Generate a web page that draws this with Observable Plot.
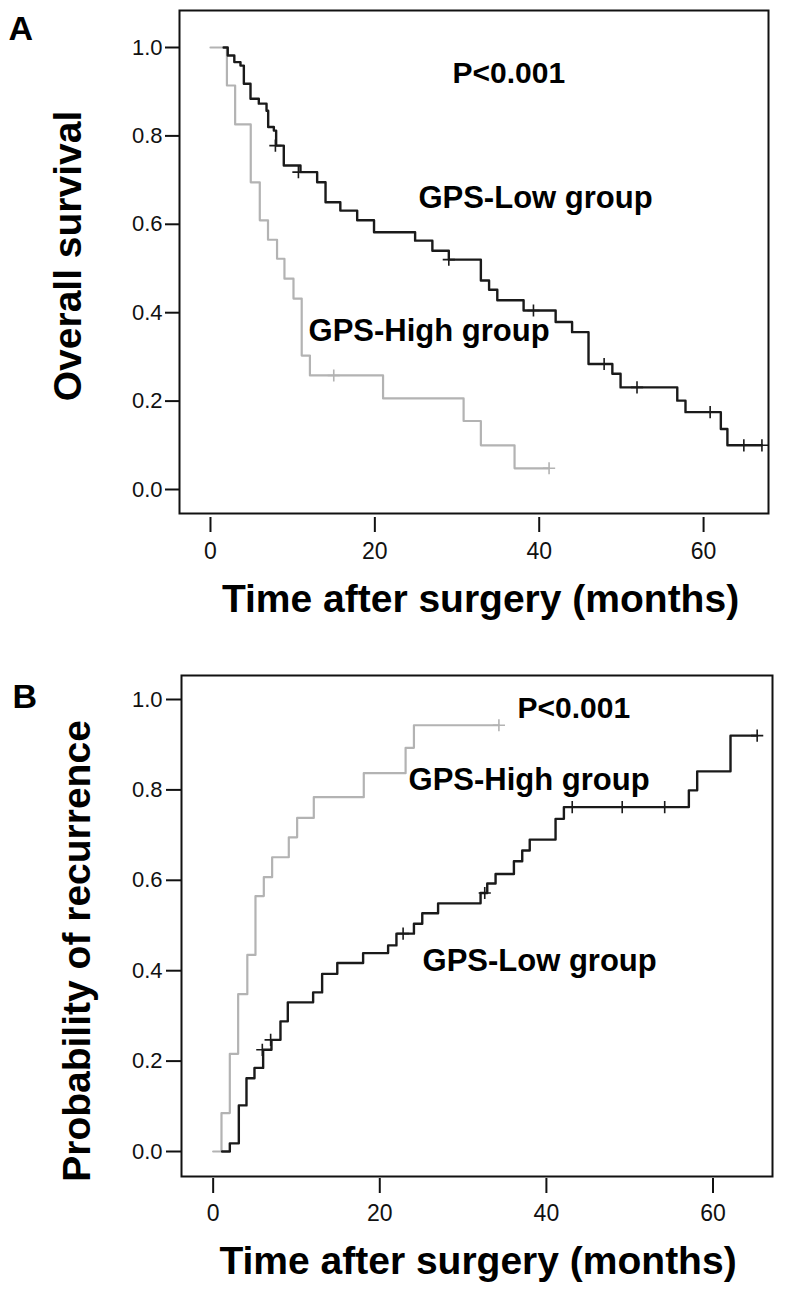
<!DOCTYPE html>
<html>
<head>
<meta charset="utf-8">
<script src="https://cdn.jsdelivr.net/npm/d3@7"></script>
<script src="https://cdn.jsdelivr.net/npm/@observablehq/plot@0.6"></script>
<style>
  body { margin: 0; background: #fff; }
  #chart { width: 787px; }
  #chart svg { display: block; }
</style>
</head>
<body>
<div id="chart"></div>
<script>
// ---------- DATA ----------
// Panel A: overall survival (Kaplan–Meier), time in months
const aLowTime  = [1.6, 2.1, 2.9, 3.65, 4.06, 4.87, 5.88, 6.82, 7.02, 7.71, 7.99, 8.92, 10.95, 12.98, 14.0, 15.8, 17.85, 19.9, 24.9, 27.0, 29.0, 32.9, 33.9, 34.9, 38.1, 42.0, 44.0, 46.0, 48.9, 49.9, 56.8, 57.8, 62.1, 62.9, 67.1];
const aLowSurv  = [1.0, 0.982, 0.967, 0.959, 0.918, 0.884, 0.873, 0.857, 0.820, 0.812, 0.778, 0.733, 0.718, 0.695, 0.650, 0.631, 0.609, 0.582, 0.563, 0.540, 0.520, 0.473, 0.452, 0.428, 0.405, 0.379, 0.356, 0.284, 0.262, 0.231, 0.201, 0.175, 0.137, 0.100, 0.100];
const aHighTime = [0, 2.0, 3.0, 4.9, 6.0, 7.0, 8.1, 9.0, 10.1, 11.1, 12.1, 21.0, 30.8, 32.9, 37.0, 41.2];
const aHighSurv = [1.0, 0.914, 0.826, 0.695, 0.609, 0.565, 0.522, 0.477, 0.432, 0.303, 0.258, 0.206, 0.155, 0.100, 0.048, 0.048];
const aLowCensorTime  = [7.9, 10.7, 29.0, 39.3, 47.9, 51.9, 60.8, 64.9, 67.1];
const aLowCensorSurv  = [0.778, 0.718, 0.520, 0.405, 0.284, 0.231, 0.175, 0.100, 0.100];
const aHighCensorTime = [15.0, 41.2];
const aHighCensorSurv = [0.258, 0.048];

// Panel B: probability of recurrence
const bLowTime  = [1.08, 2.0, 3.08, 4.0, 4.96, 6.0, 7.0, 8.08, 8.96, 12.0, 13.08, 14.9, 18.0, 21.0, 22.0, 24.1, 25.1, 27.0, 32.1, 32.9, 33.9, 36.1, 37.1, 38.0, 41.1, 42.1, 57.1, 58.1, 62.1, 65.3];
const bLowProb  = [0, 0.018, 0.102, 0.162, 0.185, 0.225, 0.247, 0.288, 0.330, 0.352, 0.393, 0.417, 0.439, 0.456, 0.482, 0.504, 0.527, 0.549, 0.572, 0.593, 0.614, 0.642, 0.666, 0.690, 0.736, 0.762, 0.799, 0.841, 0.920, 0.920];
const bHighTime = [0, 1.0, 2.0, 3.0, 4.1, 5.08, 6.08, 7.08, 9.08, 10.08, 12.08, 18.08, 23.1, 24.1, 34.3];
const bHighProb = [0, 0.085, 0.216, 0.348, 0.435, 0.565, 0.607, 0.651, 0.695, 0.738, 0.784, 0.837, 0.893, 0.943, 0.943];
const bLowCensorTime  = [5.9, 6.9, 22.8, 32.6, 43.1, 49.1, 54.2, 65.3];
const bLowCensorProb  = [0.225, 0.247, 0.482, 0.572, 0.762, 0.762, 0.762, 0.920];
const bHighCensorTime = [34.3];
const bHighCensorProb = [0.943];

const xTicks = [0, 20, 40, 60];
const yTicks = [0, 0.2, 0.4, 0.6, 0.8, 1.0];
const xTitle = "Time after surgery (months)";
const yTitleA = "Overall survival";
const yTitleB = "Probability of recurrence";
const pText = "P<0.001";
const lowName = "GPS-Low group";
const highName = "GPS-High group";

// ---------- HELPERS ----------
const rows = (t, v) => t.map((d, i) => ({t: d, v: v[i]}));
const FONT = "'Liberation Sans', Arial, Helvetica, sans-serif";
const LOW = "#1a1a1a", HIGH = "#b3b3b3";

function panel(cfg) {
  const bold = {fontWeight: "bold", fill: "#000"};
  return Plot.plot({
    width: 787,
    height: cfg.height,
    marginTop: cfg.mt, marginBottom: cfg.mb, marginLeft: cfg.ml, marginRight: cfg.mr,
    style: {fontFamily: FONT, background: "#fff", color: "#111"},
    x: {domain: cfg.xDomain},
    y: {domain: cfg.yDomain},
    marks: [
      Plot.axisY(yTicks, {tickSize: cfg.yTickSize, tickPadding: cfg.yTickPad, fontSize: 22, tickFormat: d => d.toFixed(1), label: null, strokeWidth: 2}),
      Plot.axisX(xTicks, {tickSize: 15, tickPadding: cfg.xTickPad, dy: cfg.xTickGap, fontSize: 23, label: null, strokeWidth: 2}),
      Plot.line(cfg.high, {x: "t", y: "v", curve: "step-after", stroke: HIGH, strokeWidth: 2.2}),
      Plot.dot(cfg.highC, {x: "t", y: "v", symbol: "plus", r: 4, stroke: HIGH, strokeWidth: 1.6}),
      Plot.line(cfg.low, {x: "t", y: "v", curve: "step-after", stroke: LOW, strokeWidth: 2.4}),
      Plot.dot(cfg.lowC, {x: "t", y: "v", symbol: "plus", r: 4, stroke: LOW, strokeWidth: 1.6}),
      Plot.frame({stroke: "#111", strokeWidth: 2}),
      // annotations
      Plot.text(cfg.notes, {x: "t", y: "v", text: "label", textAnchor: "start", lineAnchor: "bottom", fontSize: "size", ...bold}),
      // axis titles and panel letter
      Plot.text([xTitle], {frameAnchor: "bottom", dx: cfg.xtDx, dy: cfg.xtDy, lineAnchor: "bottom", fontSize: 39, ...bold}),
      Plot.text([cfg.yTitle], {frameAnchor: "left", rotate: -90, dx: cfg.ytDx, dy: cfg.ytDy, textAnchor: "middle", lineAnchor: "bottom", fontSize: 39, ...bold}),
      Plot.text([cfg.letter], {frameAnchor: "top-left", dx: cfg.lDx, dy: cfg.lDy, textAnchor: "start", lineAnchor: "bottom", fontSize: 34, ...bold})
    ]
  });
}

const chart = document.getElementById("chart");

chart.append(panel({
  height: 625, mt: 10, mb: 112, ml: 179, mr: 19,
  xDomain: [-3.77, 67.9], yDomain: [-0.0543, 1.0837],
  yTickSize: 14, yTickPad: 3, xTickPad: 10, xTickGap: 4,
  high: rows(aHighTime, aHighSurv), highC: rows(aHighCensorTime, aHighCensorSurv),
  low: rows(aLowTime, aLowSurv), lowC: rows(aLowCensorTime, aLowCensorSurv),
  notes: [
    {label: pText, t: 29.45, v: 0.919, size: 30},
    {label: lowName, t: 25.3, v: 0.638, size: 31},
    {label: highName, t: 11.93, v: 0.337, size: 31}
  ],
  yTitle: yTitleA, letter: "A",
  xtDx: 6.5, xtDy: 98, ytDx: -99, ytDy: -6, lDx: -171, lDy: 29
}));

chart.append(panel({
  height: 666, mt: 50, mb: 115, ml: 181, mr: 15,
  xDomain: [-3.8, 67.14], yDomain: [-0.0553, 1.0531],
  yTickSize: 15, yTickPad: 4, xTickPad: 11, xTickGap: 2,
  high: rows(bHighTime, bHighProb), highC: rows(bHighCensorTime, bHighCensorProb),
  low: rows(bLowTime, bLowProb), lowC: rows(bLowCensorTime, bLowCensorProb),
  notes: [
    {label: pText, t: 36.53, v: 0.960, size: 30},
    {label: highName, t: 23.45, v: 0.799, size: 31},
    {label: lowName, t: 25.13, v: 0.400, size: 31}
  ],
  yTitle: yTitleB, letter: "B",
  xtDx: 1, xtDy: 97, ytDx: -92, ytDy: 25, lDx: -169, lDy: 32
}));
</script>
</body>
</html>
